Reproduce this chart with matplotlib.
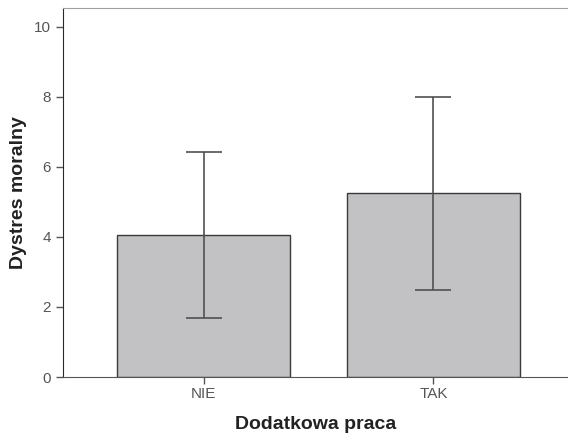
import matplotlib.pyplot as plt

# Dane
kategorie = ["NIE", "TAK"]
srednie = [4.06, 5.26]
blad_gora = [2.37, 2.74]
blad_dol = [2.37, 2.77]

plt.rcParams['font.family'] = ['Liberation Sans', 'DejaVu Sans']

fig = plt.figure(figsize=(5.68, 4.36), dpi=100)
ax = fig.add_axes([63 / 568, 59 / 436, 1 - 63 / 568, 369 / 436])

x = range(len(kategorie))
ax.bar(x, srednie, width=0.75, color="#c2c2c4", edgecolor="#3a3a3a", linewidth=1, zorder=2)
ax.errorbar(x, srednie, yerr=[blad_dol, blad_gora], fmt="none", ecolor="#505050",
            elinewidth=1.2, capsize=13, capthick=1.2, zorder=3)

ax.set_xlim(-0.611, 1.585)
ax.set_ylim(0, 10.54)
ax.set_yticks([0, 2, 4, 6, 8, 10])
ax.set_xticks(list(x))
ax.set_xticklabels(kategorie)

ax.spines["right"].set_visible(False)
ax.spines["top"].set_color("#a0a0a0")
ax.spines["left"].set_color("#2a2a2a")
ax.spines["bottom"].set_color("#555555")
ax.tick_params(axis="both", direction="out", length=5, width=1, colors="#555555",
               labelsize=11, labelcolor="#555555")
ax.tick_params(axis="x", pad=2)

ax.set_xlabel("Dodatkowa praca", fontsize=14, fontweight="bold", color="#222222")
ax.set_ylabel("Dystres moralny", fontsize=14, fontweight="bold", color="#222222")
ax.xaxis.set_label_coords(0.5, -0.13)
ax.yaxis.set_label_coords(-0.089, 0.5)
ax.xaxis.label.set_va("center")
ax.yaxis.label.set_va("center")

fig.savefig("out.png", dpi=100)
